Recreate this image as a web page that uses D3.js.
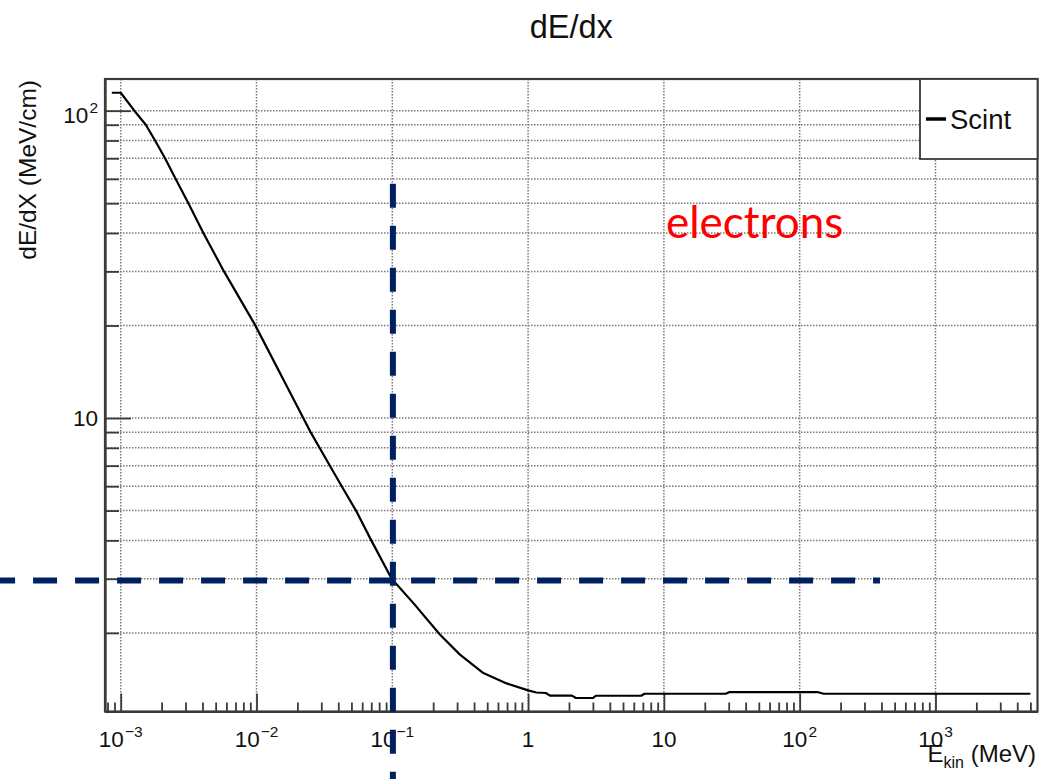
<!DOCTYPE html>
<html>
<head>
<meta charset="utf-8">
<script src="https://cdn.jsdelivr.net/npm/d3@7"></script>
<style>
  body { margin: 0; background: #fff; }
  svg { display: block; font-family: "Liberation Sans", Arial, Helvetica, sans-serif; }
</style>
</head>
<body>
<div id="chart"></div>
<script>
// kinetic energy (MeV) and stopping power (MeV/cm)
const energy = [0.00086, 0.001, 0.00126, 0.00153, 0.00179, 0.00212, 0.00254, 0.00315, 0.00406, 0.00576,
  0.00975, 0.0221, 0.0250, 0.0347, 0.0424, 0.0540, 0.0700,
  0.0989, 0.143, 0.224, 0.315, 0.468, 0.695, 1.0, 1.15, 1.35, 1.45, 2.1, 2.25, 3.0, 3.15, 6.8, 7.2,
  28.5, 30.5, 135, 150, 5000];
const dedx = [114.4, 114.4, 100, 90, 80, 70, 60, 50, 40, 30,
  20.1, 10.0, 9.0, 7.0, 6.0, 5.0, 4.0,
  3.0, 2.50, 1.975, 1.70, 1.48, 1.37, 1.30, 1.28, 1.275, 1.25, 1.25, 1.228, 1.228, 1.249, 1.249, 1.268,
  1.268, 1.284, 1.284, 1.268, 1.268];

const xMajor = [1e-3, 1e-2, 1e-1, 1, 10, 100, 1000];
const xLabels = [["10", "\u22123"], ["10", "\u22122"], ["10", "\u22121"], ["1", ""], ["10", ""], ["10", "2"], ["10", "3"]];
const yMajor = [10, 100];
const yLabels = [["10", ""], ["10", "2"]];

// annotation: E = 0.1 MeV, dE/dx = 3 MeV/cm
const markE = 0.101, markDedx = 2.96;
const hLineE = [1.11e-4, 390];
const vLineDedx = [57.8, 0.6];

const seriesName = "Scint";
const noteText = "electrons";

const W = 1039, H = 779;
const frame = { left: 105, right: 1037.5, top: 79, bottom: 711.5 };
const ink = "#111", gridCol = "#7a7a7a", axisCol = "#3a3a3a";

const svg = d3.select("#chart").append("svg")
    .attr("width", W)
    .attr("height", H);

var x = d3.scaleLog()
    .domain([7.66e-4, 5640])
    .range([frame.left, frame.right]);
var y = d3.scaleLog()
    .domain([1.11, 126.8])
    .range([frame.bottom, frame.top]);

const xMinor = x.ticks().filter(d => !xMajor.some(m => Math.abs(m - d) / m < 1e-6));
const yAll = y.ticks();
const yMinor = yAll.filter(d => !yMajor.some(m => Math.abs(m - d) / m < 1e-6));

// grid
svg.append("g").selectAll("line")
    .data(xMajor)
    .enter().append("line")
    .attr("x1", d => x(d)).attr("x2", d => x(d))
    .attr("y1", frame.top).attr("y2", frame.bottom)
    .attr("stroke", gridCol).attr("stroke-width", 1.5)
    .attr("stroke-dasharray", "1.5,1.5");
svg.append("g").selectAll("line")
    .data(yAll)
    .enter().append("line")
    .attr("y1", d => y(d)).attr("y2", d => y(d))
    .attr("x1", frame.left).attr("x2", frame.right)
    .attr("stroke", gridCol).attr("stroke-width", 1.5)
    .attr("stroke-dasharray", "1.5,1.5");

// ticks
function ticks(g) {
    g.selectAll("line,path").attr("stroke", axisCol).attr("stroke-width", 1.8);
}
svg.append("g")
    .attr("transform", `translate(0,${frame.bottom})`)
    .call(d3.axisBottom(x).tickValues(xMajor).tickSize(-18).tickSizeOuter(0).tickFormat(""))
    .call(ticks);
svg.append("g")
    .attr("transform", `translate(0,${frame.bottom})`)
    .call(d3.axisBottom(x).tickValues(xMinor).tickSize(-9).tickSizeOuter(0).tickFormat(""))
    .call(ticks);
svg.append("g")
    .attr("transform", `translate(${frame.left},0)`)
    .call(d3.axisLeft(y).tickValues(yMajor).tickSize(-26).tickSizeOuter(0).tickFormat(""))
    .call(ticks);
svg.append("g")
    .attr("transform", `translate(${frame.left},0)`)
    .call(d3.axisLeft(y).tickValues(yMinor).tickSize(-14).tickSizeOuter(0).tickFormat(""))
    .call(ticks);

// frame
svg.append("rect")
    .attr("x", frame.left).attr("y", frame.top)
    .attr("width", frame.right - frame.left).attr("height", frame.bottom - frame.top)
    .attr("fill", "none").attr("stroke", axisCol).attr("stroke-width", 2.2);

// tick labels
const xl = svg.append("g").selectAll("text")
    .data(xMajor)
    .enter().append("text")
    .attr("x", d => x(d))
    .attr("y", frame.bottom + 35.5)
    .attr("text-anchor", "middle")
    .attr("font-size", 22.5)
    .attr("fill", ink);
xl.append("tspan").text((d, i) => xLabels[i][0]);
xl.append("tspan")
    .attr("dy", -10).attr("dx", 1)
    .attr("font-size", 15.5)
    .text((d, i) => xLabels[i][1]);

const yl = svg.append("g").selectAll("text")
    .data(yMajor)
    .enter().append("text")
    .attr("x", 98)
    .attr("y", (d, i) => y(d) + (yLabels[i][1] ? 12.6 : 8))
    .attr("text-anchor", "end")
    .attr("font-size", 22.5)
    .attr("fill", ink);
yl.append("tspan").text((d, i) => yLabels[i][0]);
yl.append("tspan")
    .attr("dy", -10).attr("dx", 1)
    .attr("font-size", 15.5)
    .text((d, i) => yLabels[i][1]);

// curve
const line = d3.line()
    .x((d, i) => x(energy[i]))
    .y((d, i) => y(dedx[i]));
svg.append("path")
    .datum(energy)
    .attr("d", line)
    .attr("fill", "none")
    .attr("stroke", "#000")
    .attr("stroke-width", 2.2)
    .attr("stroke-linejoin", "round");

// legend
svg.append("rect")
    .attr("x", 920).attr("y", frame.top)
    .attr("width", frame.right - 920).attr("height", 80)
    .attr("fill", "#fff").attr("stroke", axisCol).attr("stroke-width", 1.8);
svg.append("line")
    .attr("x1", 926).attr("x2", 946)
    .attr("y1", frame.top + 40).attr("y2", frame.top + 40)
    .attr("stroke", "#000").attr("stroke-width", 3.5);
svg.append("text")
    .attr("x", 950).attr("y", frame.top + 49.5)
    .attr("font-size", 27.5)
    .attr("fill", ink)
    .text(seriesName);

// titles
svg.append("text")
    .attr("x", (frame.left + frame.right) / 2).attr("y", 38)
    .attr("text-anchor", "middle")
    .attr("font-size", 32.5)
    .attr("fill", ink)
    .text("dE/dx");

svg.append("text")
    .attr("transform", `translate(36,${frame.top + 1}) rotate(-90)`)
    .attr("text-anchor", "end")
    .attr("font-size", 24.5)
    .attr("fill", ink)
    .text("dE/dX (MeV/cm)");

const xt = svg.append("text")
    .attr("x", 1036).attr("y", 762)
    .attr("text-anchor", "end")
    .attr("font-size", 24)
    .attr("fill", ink);
xt.append("tspan").text("E");
xt.append("tspan").attr("dy", 6).attr("font-size", 16).text("kin");
xt.append("tspan").attr("dy", -6).text(" (MeV)");

svg.append("text")
    .attr("x", 666).attr("y", 238)
    .attr("font-family", "Lato, 'Open Sans', sans-serif")
    .attr("font-size", 44)
    .attr("fill", "#ff0000")
    .text(noteText);

// dashed guide lines
svg.append("line")
    .attr("x1", x(hLineE[0])).attr("x2", x(hLineE[1]))
    .attr("y1", y(markDedx)).attr("y2", y(markDedx))
    .attr("stroke", "#002060").attr("stroke-width", 6)
    .attr("stroke-dasharray", "24,18");
svg.append("line")
    .attr("x1", x(markE)).attr("x2", x(markE))
    .attr("y1", y(vLineDedx[0])).attr("y2", y(vLineDedx[1]))
    .attr("stroke", "#002060").attr("stroke-width", 6)
    .attr("stroke-dasharray", "24,18");
</script>
</body>
</html>
